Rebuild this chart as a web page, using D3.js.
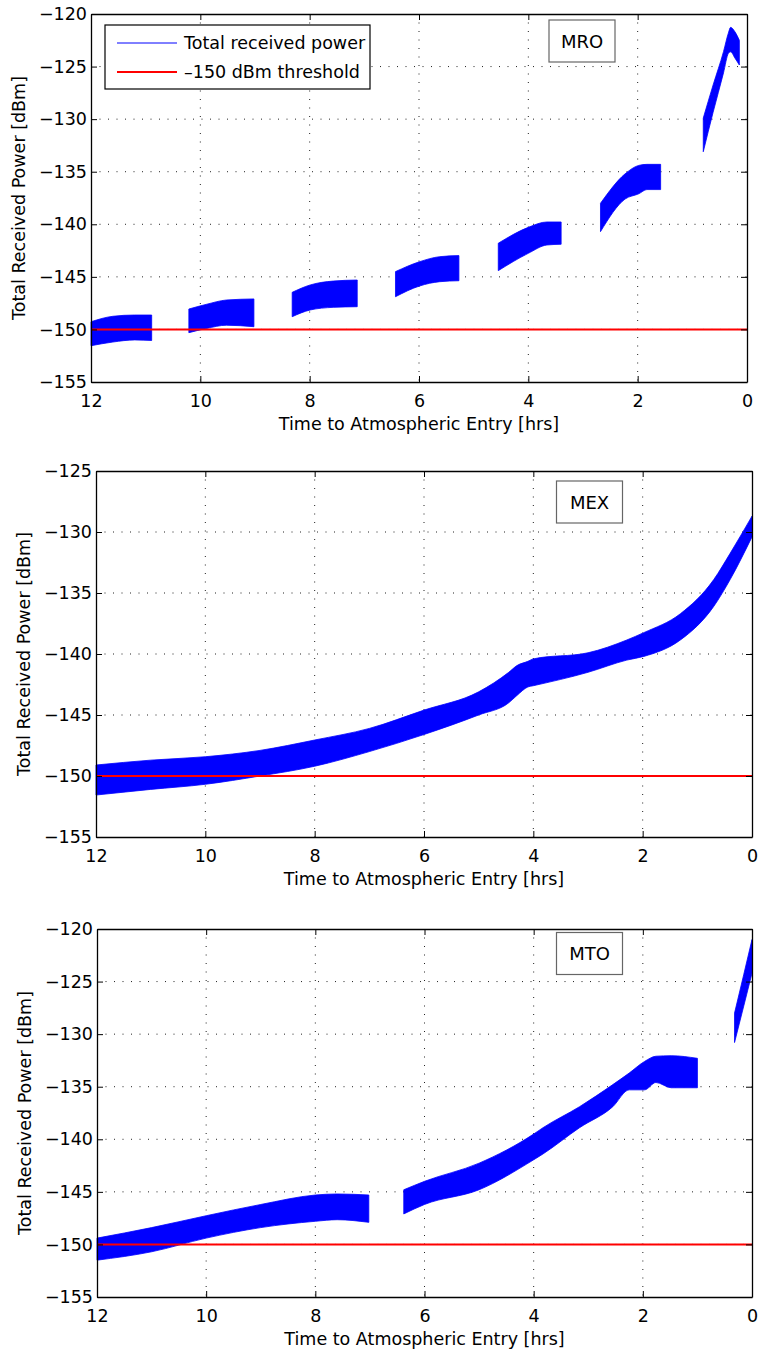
<!DOCTYPE html>
<html>
<head>
<meta charset="utf-8">
<script src="https://cdn.jsdelivr.net/npm/d3@7"></script>
<style>
  body { margin: 0; background: #fff; }
  text { font-family: "DejaVu Sans", sans-serif; }
</style>
</head>
<body>
<svg id="chart" width="761" height="1355"></svg>
<script>
// hours to entry, null = gap between passes
let mroTime = [12, 11.6, 11.2, 10.89, null, 10.21, 9.88, 9.52, 9.02, null, 8.32, 7.99, 7.57, 7.13, null,
  6.43, 5.99, 5.62, 5.27, null, 4.55, 4.0, 3.66, 3.40, null, 2.68, 2.23, 1.98, 1.83, 1.58, null,
  0.80, 0.62, 0.43, 0.34, 0.30, 0.22, 0.14];
let mroHigh = [-149.27, -148.75, -148.63, -148.63, null, -148.06, -147.6, -147.2, -147.1, null, -146.47, -145.77, -145.4, -145.3, null,
  -144.5, -143.56, -143.08, -142.98, null, -141.8, -140.29, -139.78, -139.78, null, -138.0, -135.2, -134.4, -134.3, -134.3, null,
  -129.9, -126.75, -123.58, -121.8, -121.27, -121.7, -122.5];
let mroLow = [-151.55, -151.2, -151.0, -151.05, null, -150.31, -149.9, -149.6, -149.74, null, -148.79, -148.15, -147.9, -147.84, null,
  -146.89, -145.87, -145.46, -145.37, null, -144.41, -142.76, -141.97, -141.9, null, -140.7, -137.6, -137.1, -136.7, -136.7, null,
  -133.1, -129.35, -125.6, -123.74, -123.6, -124.2, -124.85];

let mexTime = [12, 11, 10, 9, 8, 7, 6, 5, 4.45, 4.3, 4.1, 4.0, 3.0, 2.29, 1.98, 1.31, 0.70, 0.40, 0];
let mexHigh = [-149.1, -148.7, -148.42, -147.9, -147.05, -146.1, -144.6, -143.1, -141.5, -140.95, -140.6, -140.4, -139.9, -138.85, -138.25, -136.7, -133.9, -131.75, -128.7];
let mexLow = [-151.56, -151.1, -150.68, -150.0, -149.2, -148.0, -146.6, -145.0, -144.0, -143.4, -142.7, -142.6, -141.5, -140.5, -140.2, -138.85, -136.1, -133.9, -130.4];

let mtoTime = [12, 11, 10, 9, 8, 7.6, 7.02, null, 6.38, 6, 5, 4, 3.83, 3.16, 2.55, 2.25, 1.97, 1.76, 1.48, 1.0, null, 0.32, 0.15, 0];
let mtoHigh = [-149.4, -148.4, -147.27, -146.2, -145.3, -145.2, -145.3, null, -144.8, -144.0, -142.27, -139.5, -138.9, -136.9, -134.8, -133.7, -132.6, -132.1, -132.05, -132.3, null, -128.0, -124.3, -121.0];
let mtoLow = [-151.5, -150.7, -149.4, -148.4, -147.8, -147.65, -147.9, null, -147.1, -146.2, -144.8, -141.95, -141.4, -138.9, -136.9, -135.3, -135.3, -134.6, -135.1, -135.1, null, -130.8, -127.3, -124.2];

let xTicks = [12, 10, 8, 6, 4, 2, 0];
let threshold = -150;
let legendLabels = ["Total received power", "\u2013150 dBm threshold"];

let svg = d3.select("#chart");

// layout for each subplot
let panels = [
  { name: "MRO", time: mroTime, high: mroHigh, low: mroLow, yDomain: [-155, -120],
    left: 91, right: 747, top: 14, bottom: 382, labelX: 582, labelY: 41, legend: true },
  { name: "MEX", time: mexTime, high: mexHigh, low: mexLow, yDomain: [-155, -125],
    left: 96, right: 752, top: 471, bottom: 837, labelX: 589.5, labelY: 502, legend: false },
  { name: "MTO", time: mtoTime, high: mtoHigh, low: mtoLow, yDomain: [-155, -120],
    left: 97, right: 752, top: 929, bottom: 1297, labelX: 589.5, labelY: 953.5, legend: false }
];

function drawPanel(p) {
  let x = d3.scaleLinear().domain([12, 0]).range([p.left, p.right]);
  let y = d3.scaleLinear().domain(p.yDomain).range([p.bottom, p.top]);
  let yTicks = d3.range(p.yDomain[0], p.yDomain[1] + 1, 5);

  let g = svg.append("g");

  // dotted grid
  g.append("g").selectAll("line")
    .data(xTicks.slice(1, -1))
    .enter().append("line")
    .attr("x1", d => x(d)).attr("x2", d => x(d))
    .attr("y1", p.top).attr("y2", p.bottom)
    .attr("stroke", "#222").attr("stroke-width", 1)
    .attr("stroke-dasharray", "1,7.5");
  g.append("g").selectAll("line")
    .data(yTicks.slice(1, -1))
    .enter().append("line")
    .attr("x1", p.left).attr("x2", p.right)
    .attr("y1", d => y(d)).attr("y2", d => y(d))
    .attr("stroke", "#222").attr("stroke-width", 1)
    .attr("stroke-dasharray", "1,7.5");

  // power band
  let rows = p.time.map((t, i) => ({ t: t, hi: p.high[i], lo: p.low[i] }));
  let band = d3.area()
    .defined(d => d.t != null)
    .curve(d3.curveMonotoneX)
    .x(d => x(d.t))
    .y0(d => y(d.lo))
    .y1(d => y(d.hi));
  g.append("path")
    .datum(rows)
    .attr("d", band)
    .attr("fill", "#0000ff")
    .attr("stroke", "#0000ff")
    .attr("stroke-width", 0.8);

  // threshold
  g.append("line")
    .attr("x1", p.left).attr("x2", p.right)
    .attr("y1", y(threshold)).attr("y2", y(threshold))
    .attr("stroke", "#ff0000").attr("stroke-width", 2);

  // axes with inward ticks
  let fmt = d => d3.format("d")(d).replace("-", "\u2212");
  let bottom = g.append("g").attr("transform", `translate(0,${p.bottom})`)
    .call(d3.axisBottom(x).tickValues(xTicks).tickSize(-6).tickSizeOuter(0).tickPadding(12.5).tickFormat(d3.format("d")));
  let left = g.append("g").attr("transform", `translate(${p.left},0)`)
    .call(d3.axisLeft(y).tickValues(yTicks).tickSize(-6).tickSizeOuter(0).tickPadding(4).tickFormat(fmt));
  g.append("g").attr("transform", `translate(0,${p.top})`)
    .call(d3.axisTop(x).tickValues(xTicks).tickSize(-6).tickSizeOuter(0).tickFormat(""));
  g.append("g").attr("transform", `translate(${p.right},0)`)
    .call(d3.axisRight(y).tickValues(yTicks).tickSize(-6).tickSizeOuter(0).tickFormat(""));

  g.selectAll(".tick line").attr("stroke", "#000");
  g.selectAll(".domain").attr("stroke", "#000").attr("stroke-width", 1.3);
  [bottom, left].forEach(a => a.selectAll("text")
    .attr("font-family", "DejaVu Sans, sans-serif")
    .attr("font-size", 17.5)
    .attr("fill", "#000"));

  // axis titles
  g.append("text")
    .attr("x", (p.left + p.right) / 2)
    .attr("y", p.bottom + 48)
    .attr("text-anchor", "middle")
    .attr("font-size", 17.5)
    .text("Time to Atmospheric Entry [hrs]");
  g.append("text")
    .attr("transform", `translate(${p.left - 66},${(p.top + p.bottom) / 2}) rotate(-90)`)
    .attr("text-anchor", "middle")
    .attr("font-size", 17.5)
    .text("Total Received Power [dBm]");

  // spacecraft label box
  g.append("rect")
    .attr("x", p.labelX - 33).attr("y", p.labelY - 21)
    .attr("width", 66).attr("height", 42)
    .attr("fill", "#fff").attr("stroke", "#666").attr("stroke-width", 1.2);
  g.append("text")
    .attr("x", p.labelX).attr("y", p.labelY)
    .attr("text-anchor", "middle")
    .attr("dominant-baseline", "central")
    .attr("font-size", 18)
    .text(p.name);

  if (p.legend) {
    let lg = g.append("g");
    lg.append("rect")
      .attr("x", 105).attr("y", 25).attr("width", 265).attr("height", 64)
      .attr("fill", "#fff").attr("stroke", "#000").attr("stroke-width", 1.2);
    let colors = ["#0000ff", "#ff0000"];
    let widths = [1, 2];
    lg.selectAll("line")
      .data(legendLabels)
      .enter().append("line")
      .attr("x1", 117).attr("x2", 177)
      .attr("y1", (d, i) => 43 + i * 29).attr("y2", (d, i) => 43 + i * 29)
      .attr("stroke", (d, i) => colors[i])
      .attr("stroke-width", (d, i) => widths[i]);
    lg.selectAll("text")
      .data(legendLabels)
      .enter().append("text")
      .attr("x", 184)
      .attr("y", (d, i) => 43 + i * 29)
      .attr("dominant-baseline", "central")
      .attr("font-size", 17.5)
      .text(d => d);
  }
}

panels.forEach(drawPanel);
</script>
</body>
</html>
